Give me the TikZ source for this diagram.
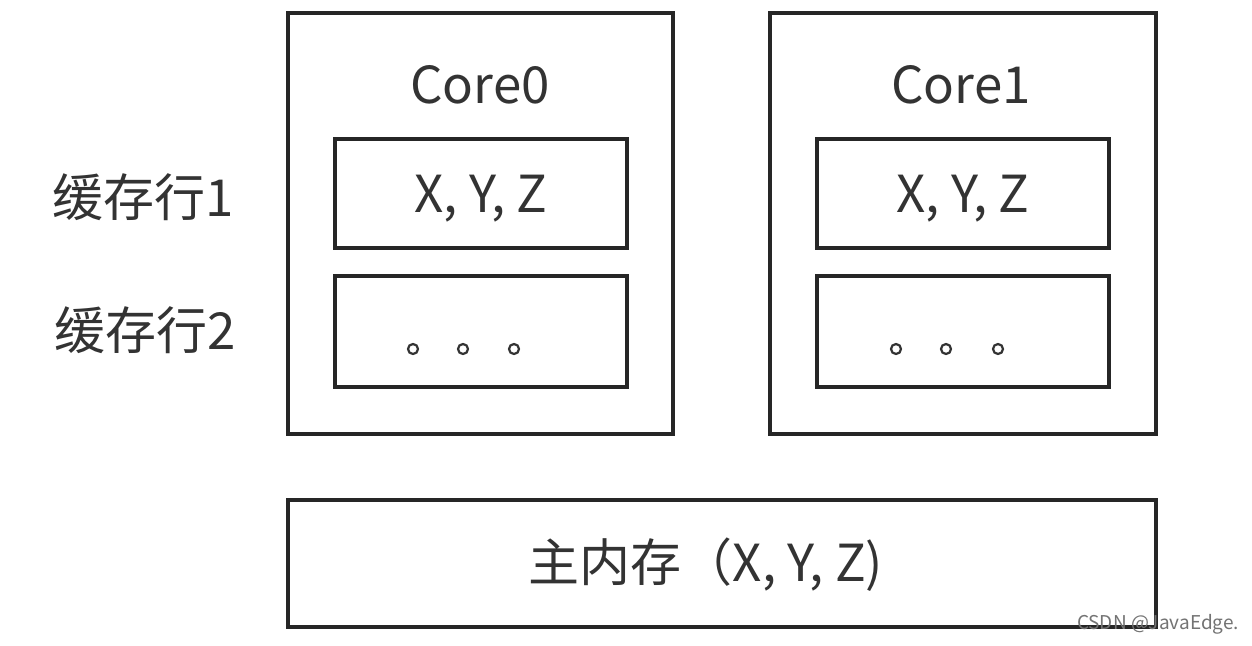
\documentclass[tikz,border=0pt]{standalone}
\usepackage{fontspec}
\setmainfont{Noto Sans CJK SC}
\begin{document}
\begin{tikzpicture}[x=1pt,y=-1pt,
  box/.style={draw=black!85,line width=3.5pt,inner sep=0pt},
  lbl/.style={font=\fontsize{51}{56}\selectfont,text=black!80,inner sep=0pt},
  dotc/.style={draw=black!80,line width=2.2pt,fill=white,circle,minimum size=10pt,inner sep=0pt}]
\useasboundingbox[fill=white] (0,0) rectangle (1252,645);
% cores
\draw[box] (288,13) rectangle (673,434);
\draw[box] (770,13) rectangle (1156,434);
\node[lbl] (c0) at (480,85) {Core0};
\node[lbl] (c1) at (961,85) {Core1};
% cache lines
\draw[box] (335,139) rectangle (627,248);
\draw[box] (335,276) rectangle (627,387);
\draw[box] (817,139) rectangle (1109,248);
\draw[box] (817,276) rectangle (1109,387);
\node[lbl] (r0a) at (481,199) {X, Y, Z};
\node[lbl] (r1a) at (963,199) {X, Y, Z};
\node[dotc] (d1) at (413,349) {};
\node[dotc] (d2) at (463,349) {};
\node[dotc] (d3) at (514,349) {};
\node[dotc] (d4) at (896,349) {};
\node[dotc] (d5) at (946,349) {};
\node[dotc] (d6) at (998,349) {};
% labels
\node[lbl] (l1) at (143,197) {缓存行1};
\node[lbl] (l2) at (145,330) {缓存行2};
% main memory
\draw[box] (288,500) rectangle (1156,627);
\node[lbl] (mm) at (706,565) {主内存（X, Y, Z)};
\node[font=\fontsize{19}{21}\selectfont,text=black!55,inner sep=0pt] (wm) at (1158,624) {CSDN @JavaEdge.};
\end{tikzpicture}
\end{document}
